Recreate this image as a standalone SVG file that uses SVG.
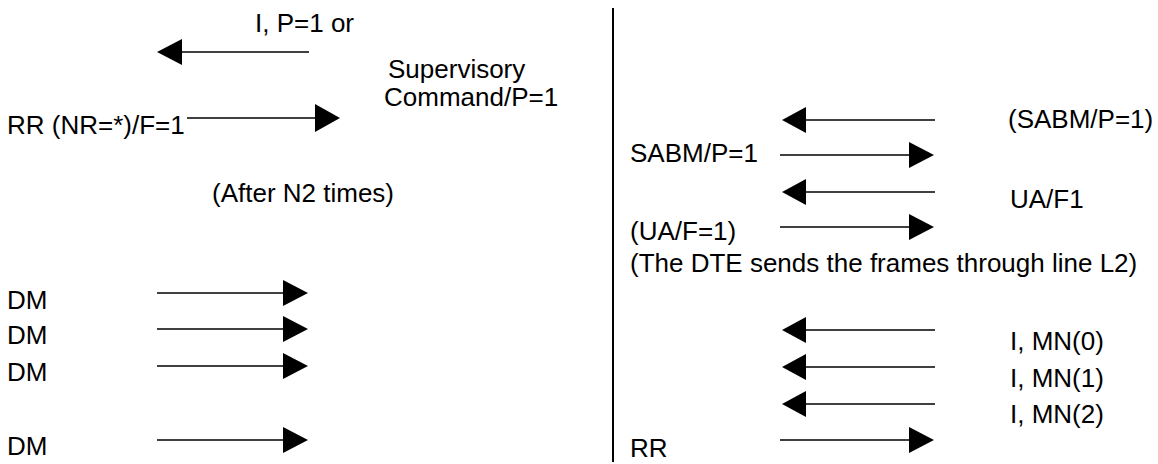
<svg xmlns="http://www.w3.org/2000/svg" width="1158" height="464" viewBox="0 0 1158 464">
<defs>
<style>
text{font-family:"Liberation Sans",Arial,sans-serif;font-size:26px;fill:#000}
.ln{stroke:#000;stroke-width:1.5;fill:none}
.hd{fill:#000}
</style>
</defs>
<rect width="1158" height="464" fill="#fff"/>
<g id="divider"><line x1="613" y1="8" x2="613" y2="462" stroke="#000" stroke-width="2"/></g>
<g id="labels-left">
<text x="255" y="32">I, P=1 or</text>
<text x="388" y="78">Supervisory</text>
<text x="384" y="106">Command/P=1</text>
<text x="7" y="134">RR (NR=*)/F=1</text>
<text x="212" y="202">(After N2 times)</text>
<text x="7" y="309">DM</text>
<text x="7" y="344">DM</text>
<text x="7" y="381">DM</text>
<text x="7" y="455">DM</text>
</g>
<g id="labels-right">
<text x="1008" y="128">(SABM/P=1)</text>
<text x="630" y="162">SABM/P=1</text>
<text x="1010" y="208">UA/F1</text>
<text x="630" y="240">(UA/F=1)</text>
<text x="630" y="272">(The DTE sends the frames through line L2)</text>
<text x="1010" y="350">I, MN(0)</text>
<text x="1010" y="387">I, MN(1)</text>
<text x="1010" y="423">I, MN(2)</text>
<text x="630" y="457">RR</text>
</g>
<g id="connectors">
<line class="ln" x1="309" y1="52" x2="182" y2="52"/><polygon class="hd" points="157,52 182,39 182,65"/>
<line class="ln" x1="187" y1="118" x2="315" y2="118"/><polygon class="hd" points="340,118 315,104 315,132"/>
<line class="ln" x1="157" y1="293" x2="283" y2="293"/><polygon class="hd" points="308,293 283,280 283,306"/>
<line class="ln" x1="157" y1="329" x2="283" y2="329"/><polygon class="hd" points="308,329 283,316 283,342"/>
<line class="ln" x1="157" y1="366" x2="283" y2="366"/><polygon class="hd" points="308,366 283,353 283,379"/>
<line class="ln" x1="157" y1="440" x2="283" y2="440"/><polygon class="hd" points="308,440 283,427 283,453"/>
<line class="ln" x1="935" y1="120" x2="806" y2="120"/><polygon class="hd" points="782,120 806,107 806,133"/>
<line class="ln" x1="780" y1="155" x2="909" y2="155"/><polygon class="hd" points="934,155 909,142 909,168"/>
<line class="ln" x1="935" y1="192" x2="806" y2="192"/><polygon class="hd" points="782,192 806,179 806,205"/>
<line class="ln" x1="780" y1="227" x2="909" y2="227"/><polygon class="hd" points="934,227 909,214 909,240"/>
<line class="ln" x1="935" y1="330" x2="806" y2="330"/><polygon class="hd" points="782,330 806,317 806,343"/>
<line class="ln" x1="935" y1="367" x2="806" y2="367"/><polygon class="hd" points="782,367 806,354 806,380"/>
<line class="ln" x1="935" y1="404" x2="806" y2="404"/><polygon class="hd" points="782,404 806,391 806,417"/>
<line class="ln" x1="780" y1="440" x2="909" y2="440"/><polygon class="hd" points="934,440 909,427 909,453"/>
</g>
</svg>
